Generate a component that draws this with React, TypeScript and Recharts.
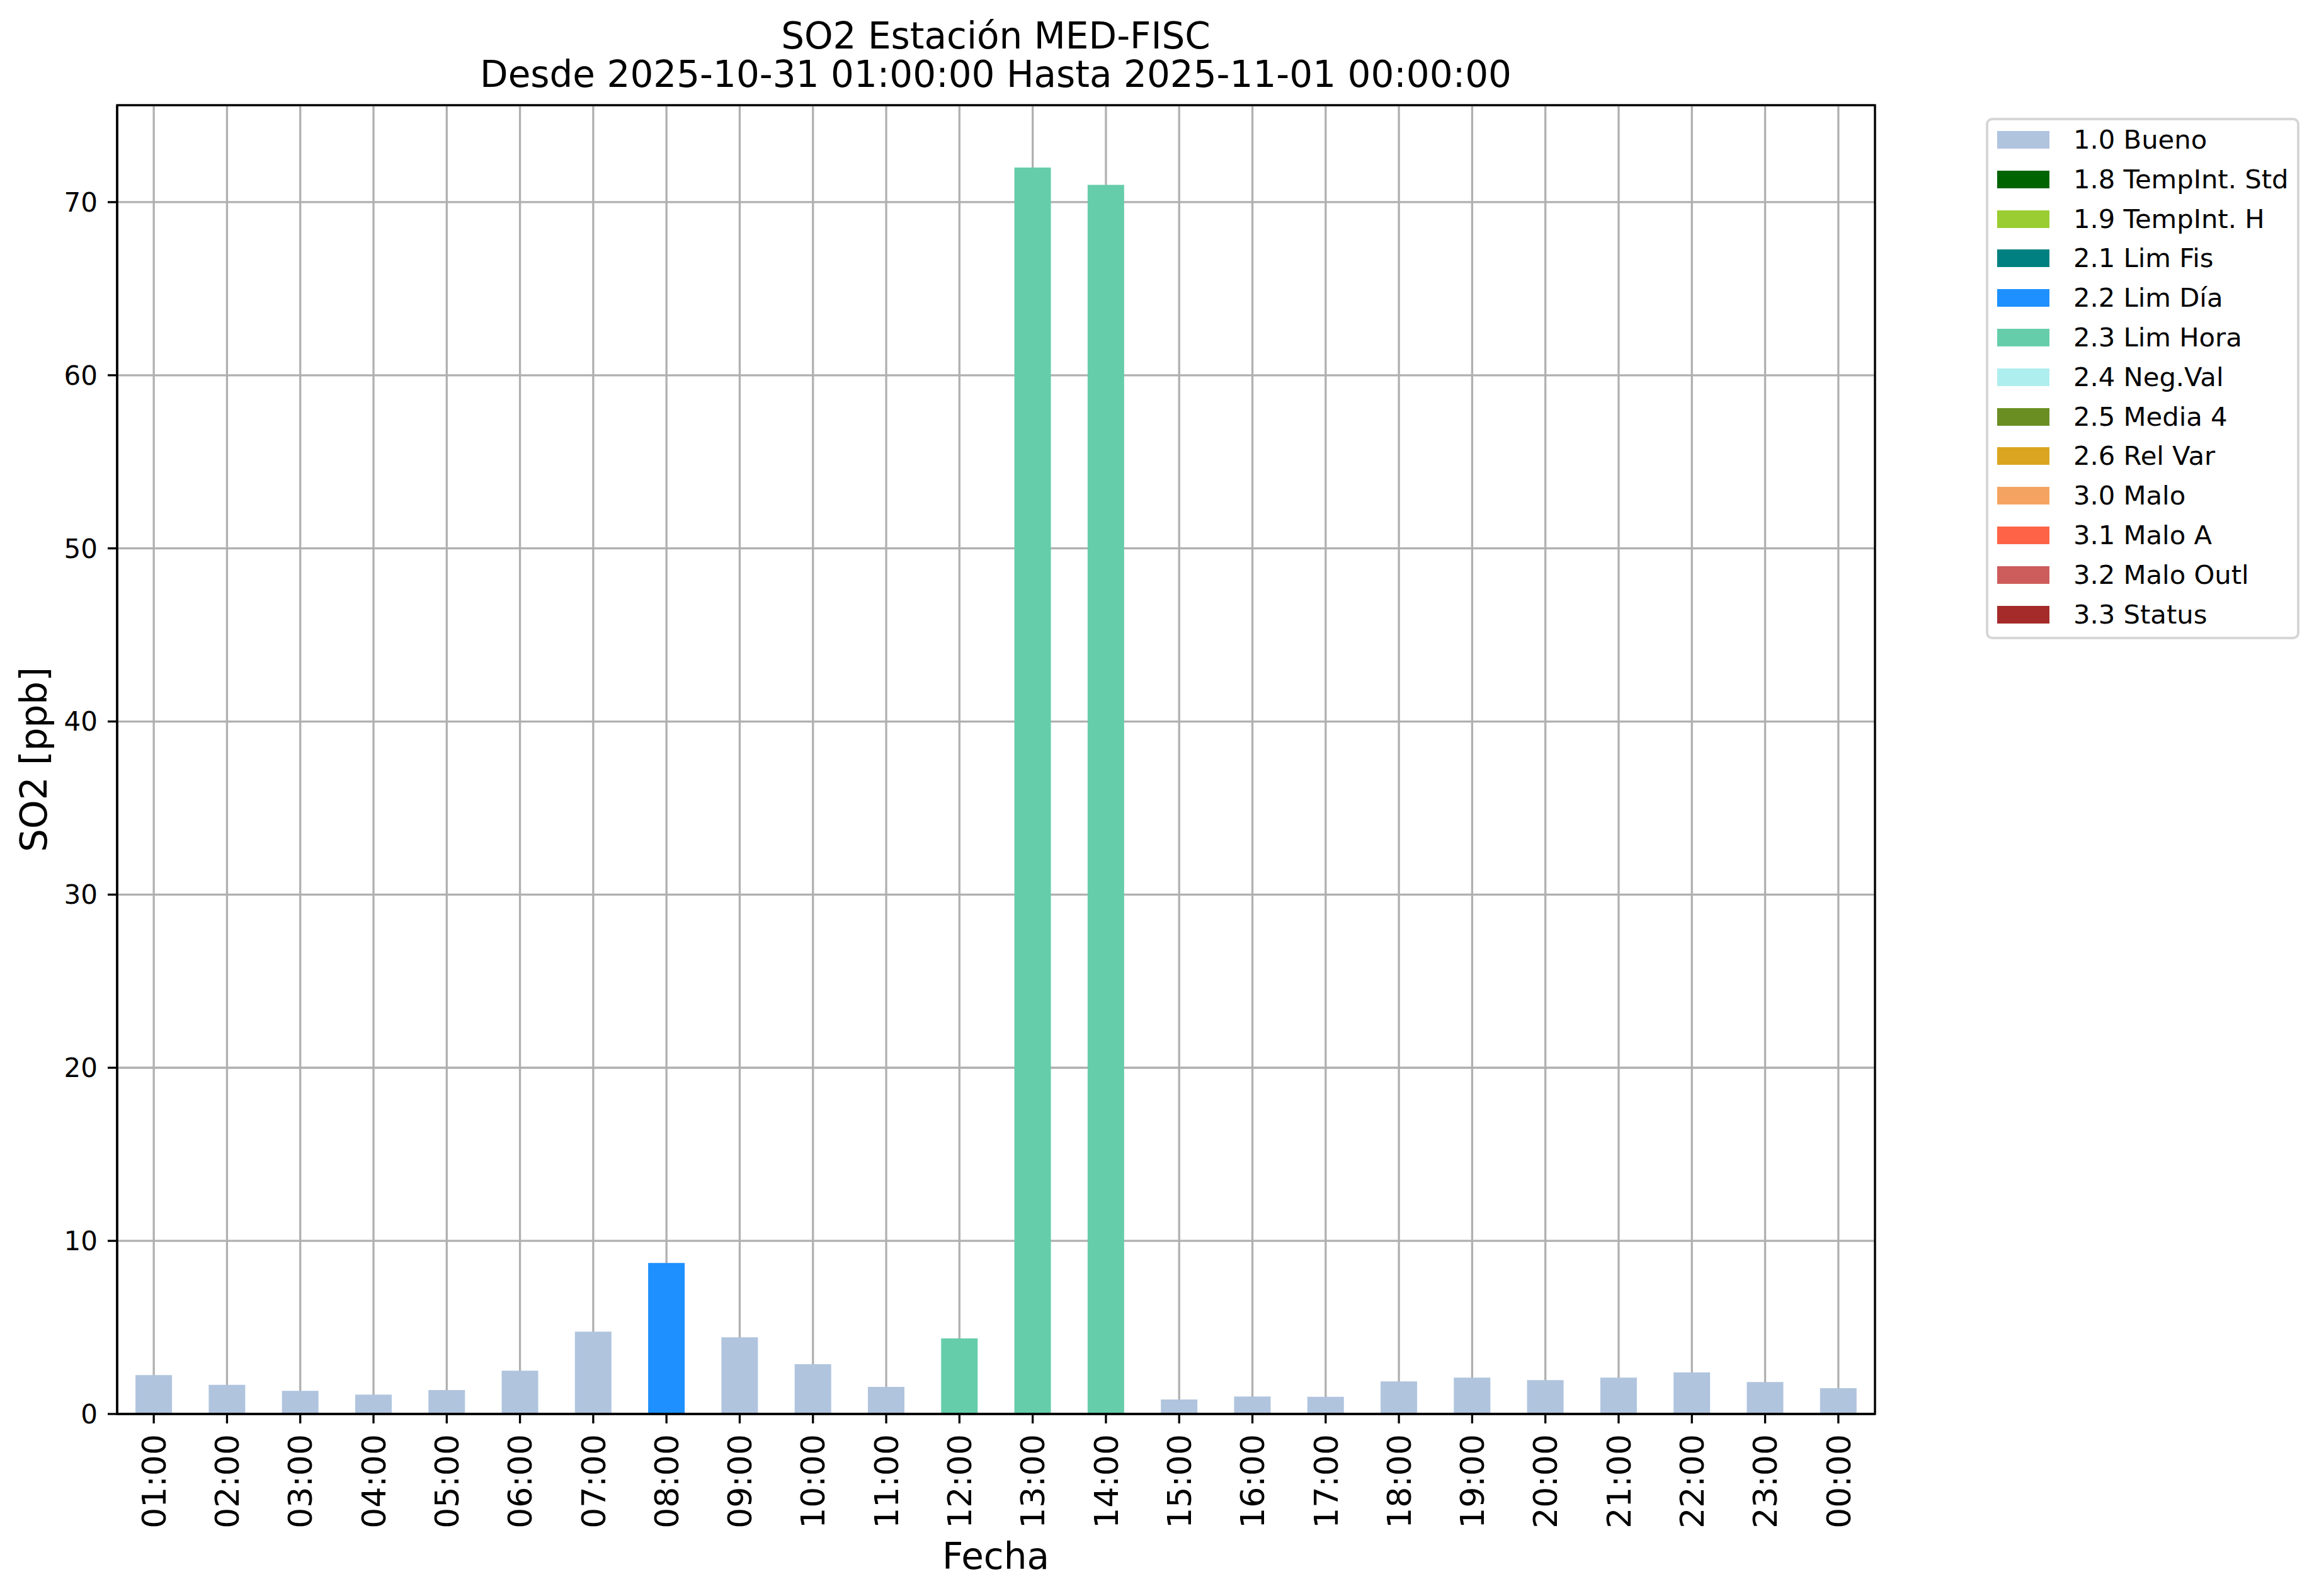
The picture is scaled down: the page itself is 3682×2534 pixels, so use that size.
import React from 'react';
import { BarChart, Bar, XAxis, YAxis, CartesianGrid } from 'recharts';

const hours = [
  '01:00', '02:00', '03:00', '04:00', '05:00', '06:00', '07:00', '08:00',
  '09:00', '10:00', '11:00', '12:00', '13:00', '14:00', '15:00', '16:00',
  '17:00', '18:00', '19:00', '20:00', '21:00', '22:00', '23:00', '00:00',
];

const so2 = [
  2.25, 1.68, 1.34, 1.12, 1.38, 2.5, 4.76, 8.72,
  4.43, 2.87, 1.56, 4.37, 72.0, 71.0, 0.84, 1.01,
  0.99, 1.88, 2.1, 1.96, 2.1, 2.4, 1.85, 1.49,
];

// quality flag of every hour
const hourFlags = [
  '1.0', '1.0', '1.0', '1.0', '1.0', '1.0', '1.0', '2.2',
  '1.0', '1.0', '1.0', '2.3', '2.3', '2.3', '1.0', '1.0',
  '1.0', '1.0', '1.0', '1.0', '1.0', '1.0', '1.0', '1.0',
];

const flagCodes = ['1.0', '1.8', '1.9', '2.1', '2.2', '2.3', '2.4', '2.5', '2.6', '3.0', '3.1', '3.2', '3.3'];
const flagNames = [
  'Bueno', 'TempInt. Std', 'TempInt. H', 'Lim Fis', 'Lim Día', 'Lim Hora',
  'Neg.Val', 'Media 4', 'Rel Var', 'Malo', 'Malo A', 'Malo Outl', 'Status',
];
const flagColors = [
  '#B0C4DE', '#006400', '#9ACD32', '#008080', '#1E90FF', '#66CDAA',
  '#AFEEEE', '#6B8E23', '#DAA520', '#F4A460', '#FF6347', '#CD5C5C', '#A52A2A',
];

const yTicks = [0, 10, 20, 30, 40, 50, 60, 70];

const data = hours.map((hour, i) => {
  const row: Record<string, string | number> = { hour };
  flagCodes.forEach((code, j) => {
    row[`f${j}`] = hourFlags[i] === code ? so2[i] : 0;
  });
  return row;
});

const FONT = '"DejaVu Sans", sans-serif';
const spine = { stroke: '#000', strokeWidth: 3.3 };

// plot box (matches the chart margins and axis sizes below)
const PLOT = { left: 186, top: 167, right: 2977, bottom: 2245 };

const HourTick = (props: any) => {
  const { x, y, payload } = props;
  return (
    <text
      x={x}
      y={y}
      transform={`rotate(-90, ${x}, ${y})`}
      textAnchor="end"
      dy="0.36em"
      fontSize={52}
      fontFamily={FONT}
      fill="#000"
    >
      {payload.value}
    </text>
  );
};

const App: React.FC = () => {
  return (
    <div style={{ position: 'absolute', left: 0, top: 0, width: 3682, height: 2534, background: '#fff', fontFamily: FONT }}>
      <BarChart
        width={3682}
        height={2534}
        data={data}
        barCategoryGap="25%"
        margin={{ top: PLOT.top, right: 3682 - PLOT.right, bottom: 0, left: 0 }}
      >
        {flagCodes.map((code, j) => (
          <Bar
            key={code}
            dataKey={`f${j}`}
            name={`${code} ${flagNames[j]}`}
            stackId="q"
            fill={flagColors[j]}
            isAnimationActive={false}
          />
        ))}
        <CartesianGrid stroke="#b0b0b0" strokeWidth={3.3} />
        <XAxis
          dataKey="hour"
          height={2534 - PLOT.bottom}
          interval={0}
          tick={<HourTick />}
          tickSize={15}
          tickMargin={17}
          stroke="#000"
          axisLine={spine}
          tickLine={spine}
        />
        <YAxis
          type="number"
          domain={[0, 75.6]}
          ticks={yTicks}
          width={PLOT.left}
          tickSize={15}
          tickMargin={16}
          tick={{ fontSize: 42, fill: '#000', fontFamily: FONT }}
          stroke="#000"
          axisLine={spine}
          tickLine={spine}
        />
      </BarChart>

      <svg width={3682} height={2534} style={{ position: 'absolute', left: 0, top: 0, pointerEvents: 'none' }}>
        <rect
          x={PLOT.left}
          y={PLOT.top}
          width={PLOT.right - PLOT.left}
          height={PLOT.bottom - PLOT.top}
          fill="none"
          stroke="#000"
          strokeWidth={3.3}
        />
        <text x={1581} y={77} textAnchor="middle" fontSize={58} fontFamily={FONT} fill="#000">
          SO2 Estación MED-FISC
        </text>
        <text x={1581} y={138} textAnchor="middle" fontSize={58} fontFamily={FONT} fill="#000">
          Desde 2025-10-31 01:00:00 Hasta 2025-11-01 00:00:00
        </text>
        <text x={74} y={1206} transform="rotate(-90, 74, 1206)" textAnchor="middle" fontSize={58} fontFamily={FONT} fill="#000">
          SO2 [ppb]
        </text>
        <text x={1581} y={2491} textAnchor="middle" fontSize={58} fontFamily={FONT} fill="#000">
          Fecha
        </text>
      </svg>

      <div
        style={{
          position: 'absolute',
          left: 3153,
          top: 187,
          width: 490,
          height: 820,
          border: '4px solid #d6d6d6',
          borderRadius: 10,
          background: '#fff',
        }}
      >
        {flagCodes.map((code, j) => (
          <div
            key={code}
            style={{
              position: 'absolute',
              left: 14,
              top: 31 + j * 62.8 - 14,
              height: 28,
              display: 'flex',
              alignItems: 'center',
              whiteSpace: 'nowrap',
            }}
          >
            <div style={{ width: 83, height: 28, background: flagColors[j] }} />
            <span style={{ marginLeft: 38, fontSize: 41.7, lineHeight: '28px', color: '#000' }}>
              {`${code} ${flagNames[j]}`}
            </span>
          </div>
        ))}
      </div>
    </div>
  );
};

export default App;
